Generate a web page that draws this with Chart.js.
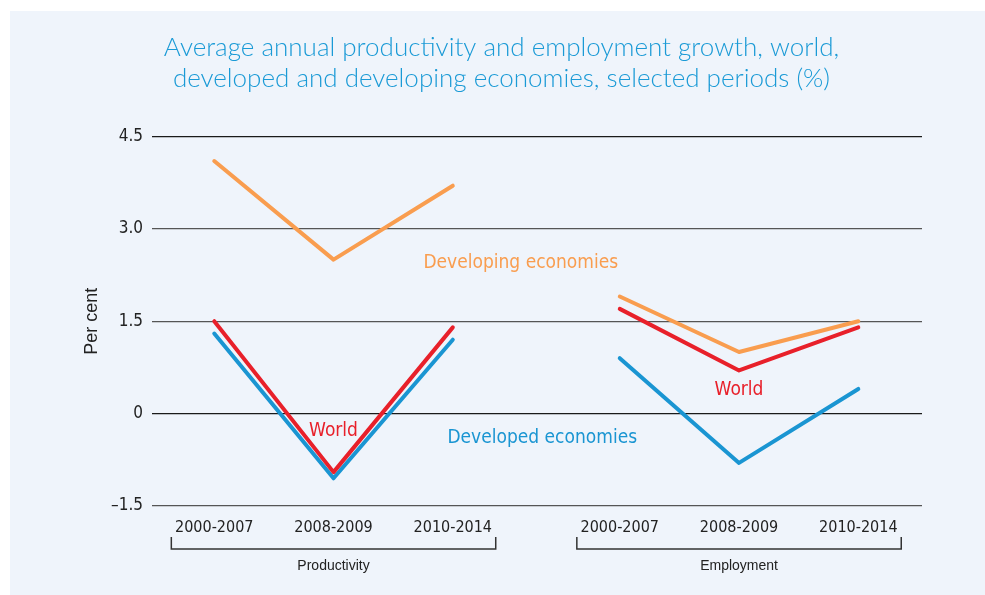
<!DOCTYPE html>
<html>
<head>
<meta charset="utf-8">
<script src="https://cdn.jsdelivr.net/npm/chart.js@4"></script>
<style>
  html, body { margin: 0; padding: 0; background: #fff; }
  #wrap { width: 985px; height: 595px; position: relative; }
</style>
</head>
<body>
<div id="wrap"><canvas id="chart"></canvas></div>
<script>
// periods and groups along the bottom
const periods = ['2000-2007', '2008-2009', '2010-2014'];
const groups = ['Productivity', 'Employment'];
// x value of each period (productivity first, then employment)
const periodX = [0, 1, 2, 3.4, 4.4, 5.4];

// growth values (%) : 3 productivity periods, then 3 employment periods
const developing = [4.1, 2.5, 3.7, 1.9, 1.0, 1.5];
const world = [1.5, -0.95, 1.4, 1.7, 0.7, 1.4];
const developed = [1.3, -1.05, 1.2, 0.9, -0.8, 0.4];

const yTicks = [-1.5, 0, 1.5, 3.0, 4.5];

const narrow = "'DejaVu Sans Condensed', 'Liberation Sans', sans-serif";

// build points, with a gap between the two groups
function toPoints(values) {
    const pts = [];
    values.forEach((v, i) => {
        if (i === 3) pts.push({ x: (periodX[2] + periodX[3]) / 2, y: null });
        pts.push({ x: periodX[i], y: v });
    });
    return pts;
}

function lineSet(label, values, color) {
    return {
        label: label,
        data: toPoints(values),
        borderColor: color,
        borderWidth: 4,
        borderCapStyle: 'round',
        borderJoinStyle: 'round',
        pointRadius: 0,
        tension: 0,
        spanGaps: false
    };
}

// background panel
const panelPlugin = {
    id: 'panel',
    beforeDraw(chart) {
        const c = chart.ctx;
        c.save();
        c.fillStyle = '#ffffff';
        c.fillRect(0, 0, chart.width, chart.height);
        c.fillStyle = '#eff4fb';
        c.fillRect(10, 11, chart.width - 10, chart.height - 11);
        c.restore();
    }
};

// series names written on the chart, brackets and group names under the axis
const notesPlugin = {
    id: 'notes',
    afterDraw(chart) {
        const c = chart.ctx;
        const xs = chart.scales.x;
        const ys = chart.scales.y;
        const area = chart.chartArea;

        c.save();
        c.font = '19px ' + narrow;
        c.textAlign = 'center';
        c.textBaseline = 'middle';
        const notes = [
            ['Developing economies', 2.57, 2.44, '#f99d4f'],
            ['World', 1.0, -0.28, '#e8202a'],
            ['World', 4.4, 0.39, '#e8202a'],
            ['Developed economies', 2.75, -0.40, '#1a95d2']
        ];
        notes.forEach(n => {
            c.fillStyle = n[3];
            c.fillText(n[0], xs.getPixelForValue(n[1]), ys.getPixelForValue(n[2]));
        });

        // brackets
        c.strokeStyle = '#333';
        c.lineWidth = 1.5;
        c.fillStyle = '#222';
        c.font = '14px "Liberation Sans", Arial, sans-serif';
        groups.forEach((g, i) => {
            const left = xs.getPixelForValue(periodX[i * 3] - 0.36);
            const right = xs.getPixelForValue(periodX[i * 3 + 2] + 0.36);
            const yb = area.bottom + 43;
            c.beginPath();
            c.moveTo(left, yb - 12);
            c.lineTo(left, yb);
            c.lineTo(right, yb);
            c.lineTo(right, yb - 12);
            c.stroke();
            c.fillText(g, xs.getPixelForValue(periodX[i * 3 + 1]), area.bottom + 60);
        });
        c.restore();
    }
};

const chart = new Chart(document.getElementById('chart'), {
    type: 'line',
    data: {
        datasets: [
            lineSet('Developing economies', developing, '#f99d4f'),
            lineSet('World', world, '#e8202a'),
            lineSet('Developed economies', developed, '#1a95d2')
        ]
    },
    options: {
        responsive: true,
        maintainAspectRatio: false,
        animation: false,
        layout: { padding: { top: 11, left: 81, right: 63, bottom: 55 } },
        plugins: {
            legend: { display: false },
            tooltip: { enabled: false },
            title: {
                display: true,
                text: ['Average annual productivity and employment growth, world,',
                       'developed and developing economies, selected periods (%)'],
                color: '#1a9ad6',
                font: { family: 'Lato', size: 26, weight: 300, lineHeight: 1.2 },
                padding: { top: 21, bottom: 42 }
            }
        },
        scales: {
            x: {
                type: 'linear',
                min: -0.522,
                max: 5.934,
                border: { display: false },
                grid: { display: false, drawTicks: false },
                afterBuildTicks(scale) {
                    scale.ticks = periodX.map(v => ({ value: v }));
                },
                afterFit(scale) {
                    scale.height = 34;
                },
                ticks: {
                    autoSkip: false,
                    maxRotation: 0,
                    padding: 12,
                    color: '#222',
                    font: { family: narrow, size: 16 },
                    callback: (v, i) => periods[i % 3]
                }
            },
            y: {
                min: -1.5,
                max: 4.5,
                border: { display: false },
                afterBuildTicks(scale) {
                    scale.ticks = yTicks.map(v => ({ value: v }));
                },
                afterFit(scale) {
                    scale.width = 71;
                },
                grid: {
                    drawTicks: false,
                    lineWidth: 1.2,
                    color: ctx => (ctx.tick && (ctx.tick.value === 0 || ctx.tick.value === 4.5)) ? '#1a1a1a' : '#555'
                },
                ticks: {
                    padding: 9,
                    color: '#222',
                    font: { family: narrow, size: 17 },
                    callback: v => v === 0 ? '0' : (v < 0 ? '\u2013' + Math.abs(v).toFixed(1) : v.toFixed(1))
                },
                title: {
                    display: true,
                    text: 'Per cent',
                    color: '#222',
                    font: { family: '"Liberation Sans", Arial, sans-serif', size: 18 },
                    padding: { top: 0, bottom: 0 }
                }
            }
        }
    },
    plugins: [panelPlugin, notesPlugin]
});
</script>
</body>
</html>
